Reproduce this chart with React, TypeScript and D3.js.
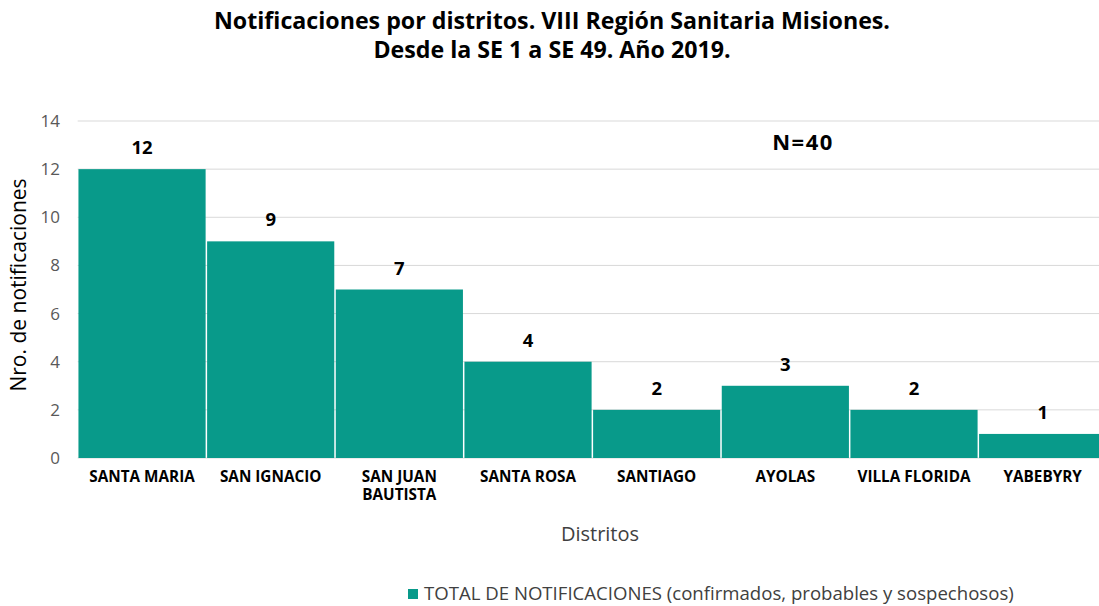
import React from "react";
import * as d3 from "d3";

const categories: string[][] = [
  ["SANTA MARIA"],
  ["SAN IGNACIO"],
  ["SAN JUAN", "BAUTISTA"],
  ["SANTA ROSA"],
  ["SANTIAGO"],
  ["AYOLAS"],
  ["VILLA FLORIDA"],
  ["YABEBYRY"],
];
const values: number[] = [12, 9, 7, 4, 2, 3, 2, 1];
const yTicks: number[] = [0, 2, 4, 6, 8, 10, 12, 14];
const titleLines = [
  "Notificaciones por distritos. VIII Región Sanitaria Misiones.",
  "Desde la SE 1 a SE 49. Año 2019.",
];
const legendLabel = "TOTAL DE NOTIFICACIONES (confirmados, probables y sospechosos)";

const W = 1099;
const H = 606;
const plotLeft = 77.7;
const plotRight = 1107;
const y0 = 458;
const y14 = 121;
const color = "#089A8A";
const font = "'Open Sans', 'Noto Sans', sans-serif";

export default function App() {
  const keys = categories.map((c) => c.join(" "));
  const x = d3.scaleBand<string>().domain(keys).range([plotLeft, plotRight]).padding(0);
  const y = d3.scaleLinear().domain([0, 14]).range([y0, y14]);

  return (
    <svg width={W} height={H} style={{ position: "absolute", left: 0, top: 0, background: "#fff" }}>
      {titleLines.map((t, i) => (
        <text key={i} x={552} y={29 + i * 29} textAnchor="middle" fontFamily={font} fontWeight="bold" fontSize={23.2} fill="#000">
          {t}
        </text>
      ))}
      {yTicks.map((t) => (
        <g key={t}>
          <line x1={plotLeft} x2={W} y1={y(t)} y2={y(t)} stroke="#D9D9D9" strokeWidth={1} />
          <text x={60} y={y(t) + 6} textAnchor="end" fontFamily={font} fontSize={17} fill="#595959">
            {t}
          </text>
        </g>
      ))}
      {values.map((v, i) => (
        <g key={i}>
          <rect
            x={(x(keys[i]) as number) + 0.75}
            y={y(v)}
            width={x.bandwidth() - 1.5}
            height={y(0) - y(v)}
            fill={color}
          />
          <text
            x={(x(keys[i]) as number) + x.bandwidth() / 2}
            y={y(v) - 15}
            textAnchor="middle"
            fontFamily={font}
            fontWeight="bold"
            fontSize={18.5}
            fill="#000"
          >
            {v}
          </text>
          {categories[i].map((line, j) => (
            <text
              key={j}
              x={(x(keys[i]) as number) + x.bandwidth() / 2}
              y={482 + j * 18}
              textAnchor="middle"
              fontFamily={font}
              fontWeight="bold"
              fontSize={15.3}
              fill="#000"
            >
              {line}
            </text>
          ))}
        </g>
      ))}
      <text x={803} y={150} textAnchor="middle" fontFamily={font} fontWeight="bold" fontSize={22} letterSpacing={1.5} fill="#000">
        N=40
      </text>
      <text
        transform={`translate(26, ${285}) rotate(-90)`}
        textAnchor="middle"
        fontFamily={font}
        fontSize={21}
        fill="#000"
      >
        Nro. de notificaciones
      </text>
      <text x={600} y={541} textAnchor="middle" fontFamily={font} fontSize={20} fill="#404040">
        Distritos
      </text>
      <rect x={408} y={589} width={10} height={10} fill={color} />
      <text x={424} y={600} fontFamily={font} fontSize={18.6} fill="#404040">
        {legendLabel}
      </text>
    </svg>
  );
}
